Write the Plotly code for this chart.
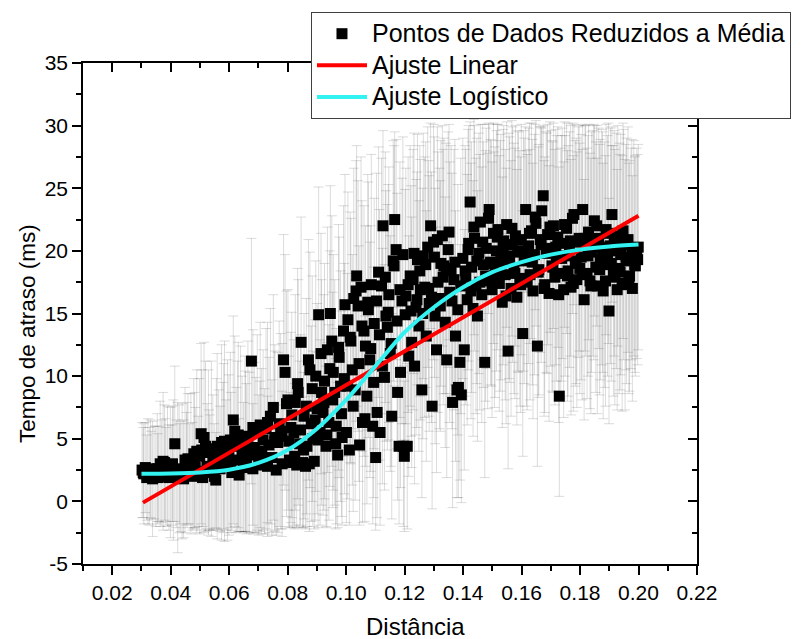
import plotly.graph_objects as go

# ---------------- data ----------------
x_a = [0.0302, 0.0308, 0.0313, 0.0318, 0.0322, 0.0327, 0.0333, 0.0338, 0.0343, 0.0349,
       0.0354, 0.0359, 0.0364, 0.0369, 0.0374, 0.0379, 0.0384, 0.0389, 0.0394, 0.0399,
       0.0404, 0.0409, 0.0414, 0.0419, 0.0424, 0.0429, 0.0434, 0.0439, 0.0444, 0.0449]
y_a = [2.5, 2.2, 2.7, 1.9, 2.4, 2.0, 2.1, 1.8, 2.3, 2.0, 2.6, 2.2, 3.0, 2.4, 3.2, 3.1, 2.0, 2.8, 1.9, 2.3,
       2.1, 2.5, 4.6, 2.2, 1.9, 2.6, 2.0, 2.4, 1.8, 3.3]
e_a = [3.8, 4.0, 3.6, 3.4, 4.2, 3.9, 3.5, 4.6, 3.7, 4.0, 4.4, 3.8, 5.0, 4.1, 5.5, 4.6, 3.9, 4.8, 4.2, 5.2,
       4.0, 5.6, 6.2, 4.3, 6.0, 5.1, 4.4, 5.4, 4.7, 5.8]

x_b = [0.0454, 0.0459, 0.0464, 0.0469, 0.0474, 0.0479, 0.0484, 0.0489, 0.0494, 0.0499,
       0.0504, 0.0509, 0.0514, 0.0519, 0.0524, 0.0529, 0.0534, 0.0539, 0.0544, 0.0549,
       0.0554, 0.0559, 0.0564, 0.0569, 0.0574, 0.0579, 0.0584, 0.0589, 0.0594, 0.0599]
y_b = [2.6, 3.4, 2.2, 3.0, 2.0, 3.8, 2.7, 4.0, 2.4, 3.6, 5.4, 1.9, 5.1, 4.4, 2.8, 3.9, 2.3, 4.2, 3.1, 2.0,
       1.7, 4.4, 3.3, 2.6, 4.7, 3.5, 4.8, 2.9, 4.1, 3.7]
e_b = [4.5, 5.2, 4.0, 5.6, 4.3, 6.0, 4.8, 6.5, 4.4, 6.2, 7.2, 3.9, 7.6, 6.8, 5.0, 6.6, 4.6, 7.0, 5.4, 4.2,
       3.8, 7.4, 5.6, 5.0, 7.8, 6.0, 8.0, 5.2, 7.2, 6.4]

x_c = [0.0604, 0.0609, 0.0614, 0.0619, 0.0624, 0.0629, 0.0634, 0.0639, 0.0644, 0.0649,
       0.0654, 0.0659, 0.0664, 0.0669, 0.0676, 0.0681, 0.0686, 0.0691, 0.0696, 0.0701,
       0.0706, 0.0711, 0.0716, 0.0721, 0.0726, 0.0731, 0.0736, 0.0741, 0.0746, 0.0751,
       0.0756, 0.0761, 0.0766, 0.0771, 0.0776, 0.0781, 0.0786, 0.0791, 0.0796]
y_c = [4.9, 2.3, 6.5, 5.6, 3.3, 4.4, 2.1, 5.0, 3.8, 2.7, 4.6, 3.4, 5.2, 3.9, 11.2, 2.6, 4.3, 3.7, 5.5, 2.9,
       6.1, 4.0, 4.9, 3.2, 5.8, 2.8, 4.5, 6.8, 3.5, 7.5, 5.1, 2.5, 4.7, 6.2, 5.6, 3.0, 11.3, 10.3, 7.8]
e_c = [7.0, 4.6, 8.3, 7.6, 5.8, 6.8, 4.5, 7.4, 6.2, 5.2, 7.0, 6.0, 7.6, 6.4, 9.8, 5.2, 6.8, 6.2, 7.8, 5.6,
       8.2, 6.6, 7.2, 5.8, 8.0, 5.6, 7.0, 8.6, 6.2, 9.0, 7.4, 5.2, 7.2, 8.2, 7.8, 5.8, 10.0, 9.4, 9.0]

x_low2 = [0.0306, 0.0331, 0.0356, 0.0381, 0.0406, 0.0431, 0.0456, 0.0481, 0.0506, 0.0531,
          0.0556, 0.0581, 0.0606, 0.0631, 0.0656, 0.0681, 0.0706, 0.0731, 0.0756, 0.0781]
y_low2 = [2.3, 2.6, 1.9, 2.5, 3.0, 2.2, 2.9, 3.3, 4.1, 2.5, 3.8, 4.4, 3.1, 5.3, 4.0, 5.9, 3.6, 6.3, 4.8, 5.2]
e_low2 = [3.6, 3.9, 3.5, 4.1, 4.6, 4.0, 5.0, 5.4, 6.4, 4.8, 6.0, 6.6, 5.6, 7.4, 6.4, 7.8, 6.0, 8.0, 7.2, 7.4]

x_d = [0.0801, 0.0806, 0.0811, 0.0816, 0.0821, 0.0826, 0.0831, 0.0836, 0.0841, 0.0846,
       0.0851, 0.0856, 0.0861, 0.0866, 0.0871, 0.0876, 0.0881, 0.0886, 0.0891, 0.0896,
       0.0901, 0.0906, 0.0911, 0.0916, 0.0921, 0.0926, 0.0931, 0.0936, 0.0941, 0.0946,
       0.0951, 0.0956, 0.0961, 0.0966, 0.0971, 0.0976, 0.0981, 0.0986, 0.0991, 0.0996]
y_d = [8.1, 3.3, 5.9, 3.1, 5.5, 7.9, 2.9, 8.7, 4.6, 12.7, 3.1, 6.8, 2.8, 4.4, 11.3, 10.5, 6.2, 5.0, 3.2, 10.0,
       7.4, 14.9, 5.5, 8.7, 7.1, 9.6, 4.4, 12.1, 6.3, 15.0, 12.8, 10.3, 8.7, 6.0, 3.7, 11.5, 9.2, 5.1, 13.6, 15.7]
e_d = [8.8, 5.4, 7.6, 5.2, 7.4, 8.6, 5.0, 9.0, 6.6, 10.0, 5.2, 8.2, 5.0, 6.4, 9.6, 9.4, 7.8, 7.0, 5.4, 9.2,
       8.4, 10.2, 7.4, 9.0, 8.2, 9.4, 6.4, 9.8, 7.8, 10.2, 10.0, 9.4, 9.0, 7.8, 5.8, 9.6, 9.2, 7.0, 10.0, 10.4]

x_d2 = [0.0804, 0.0814, 0.0824, 0.0834, 0.0844, 0.0854, 0.0864, 0.0874, 0.0884, 0.0894,
        0.0904, 0.0914, 0.0924, 0.0934, 0.0944, 0.0954, 0.0964, 0.0974, 0.0984, 0.0994]
y_d2 = [4.8, 6.9, 3.6, 9.4, 5.7, 4.1, 7.6, 3.0, 9.0, 6.5, 4.9, 11.8, 7.9, 5.3, 10.6, 8.1, 4.6, 12.3, 7.0, 9.8]
e_d2 = [6.8, 8.2, 5.8, 9.2, 7.6, 6.2, 8.6, 5.4, 9.0, 8.0, 7.0, 9.6, 8.6, 7.4, 9.4, 8.6, 6.8, 9.8, 8.2, 9.2]

x_e = [0.1001, 0.1006, 0.1011, 0.1016, 0.1021, 0.1026, 0.1031, 0.1036, 0.1041, 0.1046,
       0.1051, 0.1056, 0.1061, 0.1066, 0.1071, 0.1076, 0.1081, 0.1086, 0.1091, 0.1096,
       0.1101, 0.1106, 0.1111, 0.1116, 0.1121, 0.1126, 0.1131, 0.1136, 0.1141, 0.1146,
       0.1151, 0.1156, 0.1161, 0.1166, 0.1171, 0.1176, 0.1181, 0.1186, 0.1191, 0.1196]
y_e = [5.5, 14.5, 4.1, 12.8, 10.5, 16.2, 8.9, 18.0, 15.6, 4.5, 17.1, 6.3, 13.6, 12.4, 8.4, 15.3, 11.3, 17.3, 6.0, 14.2,
       3.5, 7.1, 18.3, 5.5, 17.2, 22.0, 9.9, 14.8, 13.9, 16.5, 11.8, 6.8, 19.2, 22.5, 20.1, 8.7, 4.4, 10.3, 16.0, 4.4]
e_e = [7.2, 10.2, 6.0, 9.8, 9.2, 10.4, 8.8, 10.4, 10.0, 6.4, 10.4, 8.0, 10.0, 9.6, 8.6, 10.2, 9.4, 10.4, 7.8, 10.0,
       5.8, 8.4, 10.0, 7.4, 10.2, 7.6, 9.0, 10.0, 9.8, 10.2, 9.4, 8.2, 9.6, 7.0, 8.8, 8.6, 6.2, 9.2, 9.8, 6.4]

x_e2 = [0.1004, 0.1014, 0.1024, 0.1034, 0.1044, 0.1054, 0.1064, 0.1074, 0.1084, 0.1094,
        0.1104, 0.1114, 0.1124, 0.1134, 0.1144, 0.1154, 0.1164, 0.1174, 0.1184, 0.1194]
y_e2 = [9.2, 13.1, 7.6, 16.8, 11.0, 14.0, 6.6, 15.9, 12.2, 9.5, 16.0, 13.3, 10.8, 17.9, 15.1, 12.6, 18.8, 14.4, 16.9, 19.7]
e_e2 = [9.0, 10.0, 8.4, 10.4, 9.4, 10.0, 8.2, 10.2, 9.8, 9.2, 10.2, 10.0, 9.4, 10.0, 10.2, 9.8, 9.6, 10.2, 10.2, 9.4]

x_f = [0.1199, 0.1204, 0.1209, 0.1214, 0.1219, 0.1224, 0.1229, 0.1234, 0.1239, 0.1244,
       0.1249, 0.1254, 0.1259, 0.1264, 0.1269, 0.1274, 0.1279, 0.1284, 0.1289, 0.1294,
       0.1299, 0.1304, 0.1309, 0.1314, 0.1319, 0.1324, 0.1329, 0.1334, 0.1339, 0.1344,
       0.1349, 0.1354, 0.1359, 0.1364, 0.1369, 0.1374, 0.1379, 0.1384, 0.1389, 0.1394, 0.1399]
y_f = [3.6, 16.4, 4.4, 11.6, 18.0, 12.7, 17.7, 10.8, 15.5, 19.3, 14.0, 16.9, 8.9, 19.6, 17.1, 13.2, 20.3, 15.8, 22.0, 7.6,
       20.7, 14.8, 12.1, 17.5, 16.2, 19.0, 21.2, 18.8, 14.3, 11.3, 20.1, 16.7, 18.4, 7.9, 17.7, 13.2, 8.9, 9.1, 11.1, 8.5, 19.4]
e_f = [6.0, 10.2, 6.6, 9.6, 10.4, 10.0, 10.4, 9.4, 10.2, 10.0, 10.0, 10.4, 8.6, 9.8, 10.4, 10.0, 9.6, 10.2, 8.2, 8.2,
       9.4, 10.2, 9.8, 10.4, 10.4, 9.8, 8.8, 10.2, 10.0, 9.4, 9.4, 10.4, 10.0, 8.4, 10.4, 10.0, 8.6, 8.8, 9.4, 8.6, 9.6]

x_f2 = [0.1202, 0.1212, 0.1222, 0.1232, 0.1242, 0.1252, 0.1262, 0.1272, 0.1282, 0.1292,
        0.1302, 0.1312, 0.1322, 0.1332, 0.1342, 0.1352, 0.1362, 0.1372, 0.1382, 0.1392]
y_f2 = [14.9, 17.3, 15.2, 19.8, 16.1, 18.4, 15.0, 18.9, 17.0, 16.3, 19.5, 20.9, 15.6, 17.9, 18.6, 21.5, 16.0, 19.1, 15.3, 17.2]
e_f2 = [10.0, 10.2, 10.0, 9.6, 10.2, 10.0, 10.0, 9.8, 10.2, 10.0, 9.6, 9.0, 10.0, 10.2, 10.0, 8.6, 10.2, 9.8, 10.0, 10.2]

x_g = [0.1404, 0.1409, 0.1414, 0.1419, 0.1424, 0.1429, 0.1434, 0.1439, 0.1444, 0.1449,
       0.1454, 0.1459, 0.1464, 0.1469, 0.1474, 0.1479, 0.1484, 0.1489, 0.1494, 0.1499,
       0.1504, 0.1509, 0.1514, 0.1519, 0.1524, 0.1529, 0.1534, 0.1539, 0.1544, 0.1549,
       0.1554, 0.1559, 0.1564, 0.1569, 0.1574, 0.1579, 0.1584, 0.1589, 0.1594, 0.1599]
y_g = [12.1, 17.9, 16.1, 20.6, 23.9, 18.7, 15.4, 21.0, 17.2, 14.8, 19.8, 22.3, 16.5, 18.9, 11.1, 20.2, 17.6, 23.3, 19.1, 16.9,
       21.4, 18.3, 20.0, 21.7, 17.4, 19.5, 15.9, 20.8, 18.1, 22.1, 12.0, 19.3, 17.0, 20.5, 18.6, 21.2, 16.3, 19.9, 17.8, 20.9]
e_g = [9.6, 10.2, 10.0, 9.4, 6.4, 10.0, 10.2, 9.0, 10.2, 10.0, 9.6, 7.8, 10.2, 9.8, 9.2, 9.6, 10.2, 6.8, 9.8, 10.2,
       8.8, 10.0, 9.6, 8.4, 10.2, 9.8, 10.0, 9.2, 10.0, 8.2, 9.4, 9.8, 10.2, 9.4, 10.0, 8.8, 10.2, 9.6, 10.2, 9.2]

x_g2 = [0.1407, 0.1417, 0.1427, 0.1437, 0.1447, 0.1457, 0.1467, 0.1477, 0.1487, 0.1497,
        0.1507, 0.1517, 0.1527, 0.1537, 0.1547, 0.1557, 0.1567, 0.1577, 0.1587, 0.1597]
y_g2 = [18.4, 20.1, 16.8, 21.9, 19.2, 17.5, 20.7, 18.0, 22.6, 19.0, 17.7, 21.1, 18.8, 20.3, 16.4, 19.6, 21.8, 18.2, 20.0, 17.3]
e_g2 = [10.0, 9.6, 10.2, 8.6, 9.8, 10.2, 9.4, 10.0, 7.6, 9.8, 10.2, 9.0, 10.0, 9.4, 10.2, 9.8, 8.6, 10.0, 9.6, 10.2]

x_h = [0.1604, 0.1609, 0.1614, 0.1619, 0.1624, 0.1629, 0.1634, 0.1639, 0.1644, 0.1649,
       0.1654, 0.1659, 0.1664, 0.1669, 0.1674, 0.1679, 0.1684, 0.1689, 0.1694, 0.1699,
       0.1704, 0.1709, 0.1714, 0.1719, 0.1724, 0.1729, 0.1734, 0.1739, 0.1744, 0.1749,
       0.1754, 0.1759, 0.1764, 0.1769, 0.1774, 0.1779, 0.1784, 0.1789, 0.1794, 0.1799]
y_h = [13.4, 19.2, 23.3, 17.5, 20.4, 18.1, 21.6, 16.8, 19.7, 22.2, 12.4, 18.5, 20.9, 23.2, 24.4, 17.3, 19.9, 21.3, 16.6, 20.2,
       18.8, 22.0, 17.9, 19.4, 21.1, 8.4, 18.2, 20.6, 16.9, 19.6, 21.8, 18.4, 20.1, 17.1, 22.6, 22.9, 19.0, 17.7, 20.7, 18.6]
e_h = [9.8, 9.8, 6.6, 10.2, 9.4, 10.0, 8.6, 10.2, 9.6, 8.2, 9.6, 10.0, 9.0, 6.6, 5.6, 10.2, 9.6, 8.8, 10.2, 9.4,
       10.0, 8.2, 10.2, 9.8, 8.8, 8.0, 10.0, 9.2, 10.2, 9.6, 8.4, 10.0, 9.4, 10.2, 7.6, 7.2, 9.8, 10.2, 9.2, 10.0]

x_h2 = [0.1607, 0.1617, 0.1627, 0.1637, 0.1647, 0.1657, 0.1667, 0.1677, 0.1687, 0.1697,
        0.1707, 0.1717, 0.1727, 0.1737, 0.1747, 0.1757, 0.1767, 0.1777, 0.1787, 0.1797]
y_h2 = [20.0, 17.8, 21.4, 19.1, 22.7, 18.3, 20.5, 17.0, 19.8, 21.9, 18.7, 20.3, 16.5, 19.4, 22.1, 18.0, 20.8, 17.4, 19.2, 21.0]
e_h2 = [9.6, 10.2, 8.8, 9.8, 7.4, 10.0, 9.4, 10.2, 9.6, 8.4, 10.0, 9.4, 10.2, 9.8, 8.2, 10.0, 9.2, 10.2, 9.8, 9.0]

x_i = [0.1804, 0.1809, 0.1814, 0.1819, 0.1824, 0.1829, 0.1834, 0.1839, 0.1844, 0.1849,
       0.1854, 0.1859, 0.1864, 0.1869, 0.1874, 0.1879, 0.1884, 0.1889, 0.1894, 0.1899,
       0.1904, 0.1909, 0.1914, 0.1919, 0.1924, 0.1929, 0.1934, 0.1939, 0.1944, 0.1949,
       0.1954, 0.1959, 0.1964, 0.1969, 0.1974, 0.1979, 0.1984, 0.1989, 0.1994, 0.1999]
y_i = [19.5, 23.3, 16.1, 20.8, 18.2, 21.5, 17.6, 19.9, 20.6, 22.4, 18.7, 17.2, 21.0, 19.3, 20.3, 16.8, 18.9, 21.7, 19.6, 15.2,
       20.4, 22.9, 18.4, 17.9, 20.0, 21.2, 18.6, 19.7, 17.4, 20.5, 17.3, 19.2, 20.9, 18.0, 19.4, 17.0, 20.2, 18.8, 19.8, 20.3]
e_i = [9.8, 6.8, 9.6, 9.2, 10.0, 8.6, 10.2, 9.6, 9.0, 7.6, 10.0, 10.2, 8.8, 9.6, 9.4, 10.2, 9.8, 8.4, 9.6, 9.0,
       9.4, 7.0, 10.0, 10.2, 9.4, 8.8, 10.0, 9.6, 10.2, 9.2, 10.0, 9.8, 9.0, 9.2, 8.8, 9.0, 8.6, 8.8, 8.4, 8.2]

x_i2 = [0.1807, 0.1817, 0.1827, 0.1837, 0.1847, 0.1857, 0.1867, 0.1877, 0.1887, 0.1897,
        0.1907, 0.1917, 0.1927, 0.1937, 0.1947, 0.1957, 0.1967, 0.1977, 0.1987, 0.1997]
y_i2 = [18.1, 21.0, 19.6, 17.2, 20.7, 22.0, 18.5, 19.9, 17.6, 21.4, 19.0, 20.6, 16.9, 18.3, 21.6, 19.5, 17.8, 20.1, 18.9, 19.3]
e_i2 = [10.0, 9.0, 9.6, 10.2, 9.4, 8.0, 10.0, 9.6, 10.0, 8.8, 9.4, 9.0, 9.6, 9.4, 8.6, 9.0, 9.2, 8.8, 8.6, 8.4]

# Linear fit line (endpoints)
lin_x = [0.0305, 0.2]
lin_y = [-0.1, 22.8]

# Logistic fit curve
log_x = [0.030, 0.040, 0.050, 0.060, 0.070, 0.080, 0.090, 0.100, 0.110,
         0.120, 0.130, 0.140, 0.150, 0.160, 0.170, 0.180, 0.190, 0.200]
log_y = [2.20, 2.23, 2.31, 2.53, 3.07, 4.10, 5.80, 8.10, 10.8,
         13.5, 15.5, 17.1, 18.3, 19.1, 19.7, 20.1, 20.35, 20.5]

x_ticks = [0.02, 0.04, 0.06, 0.08, 0.10, 0.12, 0.14, 0.16, 0.18, 0.20, 0.22]
x_labels = ["0.02", "0.04", "0.06", "0.08", "0.10", "0.12", "0.14", "0.16", "0.18", "0.20", "0.22"]
y_ticks = [-5, 0, 5, 10, 15, 20, 25, 30, 35]
y_labels = ["-5", "0", "5", "10", "15", "20", "25", "30", "35"]

X_RANGE = [0.01, 0.22]
Y_RANGE = [-5, 35]

x_title = "Distância"
y_title = "Tempo de atraso (ms)"
names = ["Pontos de Dados Reduzidos a Média", "Ajuste Linear", "Ajuste Logístico"]

# ---------------- figure ----------------
xs = x_a + x_b + x_c + x_low2 + x_d + x_d2 + x_e + x_e2 + x_f + x_f2 + x_g + x_g2 + x_h + x_h2 + x_i + x_i2
ys = y_a + y_b + y_c + y_low2 + y_d + y_d2 + y_e + y_e2 + y_f + y_f2 + y_g + y_g2 + y_h + y_h2 + y_i + y_i2
es = e_a + e_b + e_c + e_low2 + e_d + e_d2 + e_e + e_e2 + e_f + e_f2 + e_g + e_g2 + e_h + e_h2 + e_i + e_i2

FONT = "Liberation Sans, Arial, sans-serif"


def big(t):
    return '<span style="font-size:25px">' + t + '</span>'


fig = go.Figure()
fig.add_trace(go.Scatter(
    x=xs, y=ys, mode="markers", name=big(names[0]),
    marker=dict(symbol="square", size=11, color="black", line=dict(width=0)),
    error_y=dict(type="data", array=es, visible=True, color="rgba(0,0,0,0.14)",
                 thickness=1, width=5),
))
fig.add_trace(go.Scatter(
    x=lin_x, y=lin_y, mode="lines", name=big(names[1]),
    line=dict(color="#FF0000", width=4),
))
fig.add_trace(go.Scatter(
    x=log_x, y=log_y, mode="lines", name=big(names[2]),
    line=dict(color="#33F2F2", width=4, shape="spline", smoothing=0.8),
))
# empty trace to activate the mirrored (top/right) axes with inward ticks
fig.add_trace(go.Scatter(x=[], y=[], xaxis="x2", yaxis="y2", showlegend=False,
                         hoverinfo="skip"))

tick_common = dict(showgrid=False, zeroline=False, tickcolor="black", tickwidth=1.6,
                   automargin=False)

fig.update_layout(
    width=806, height=639, autosize=False,
    margin=dict(l=83, r=109, t=63, b=75, pad=0),
    paper_bgcolor="white", plot_bgcolor="white",
    font=dict(family=FONT, size=21, color="black"),
    showlegend=True,
    legend=dict(
        x=0.3713, y=1.102, xanchor="left", yanchor="top",
        bgcolor="white", bordercolor="#404040", borderwidth=1,
        font=dict(family=FONT, size=22, color="black"),
        tracegroupgap=0, itemwidth=50,
    ),
    xaxis=dict(
        range=X_RANGE, tickmode="array", tickvals=x_ticks, ticktext=x_labels,
        ticks="outside", ticklen=9, showline=True, mirror=True,
        linecolor="black", linewidth=1.6,
        tickfont=dict(size=21),
        minor=dict(ticks="outside", ticklen=5, dtick=0.01, tick0=0.01,
                   tickcolor="black", tickwidth=1.6),
        **tick_common,
    ),
    yaxis=dict(
        range=Y_RANGE, tickmode="array", tickvals=y_ticks, ticktext=y_labels,
        ticks="outside", ticklen=9, showline=True, mirror=True,
        linecolor="black", linewidth=1.6,
        tickfont=dict(size=21),
        minor=dict(ticks="outside", ticklen=5, dtick=2.5, tick0=0,
                   tickcolor="black", tickwidth=1.6),
        **tick_common,
    ),
    xaxis2=dict(
        overlaying="x", side="top", anchor="y2", range=X_RANGE,
        tickmode="array", tickvals=x_ticks, showticklabels=False,
        ticks="inside", ticklen=9, showline=False,
        minor=dict(ticks="inside", ticklen=5, dtick=0.01, tick0=0.01,
                   tickcolor="black", tickwidth=1.6),
        **tick_common,
    ),
    yaxis2=dict(
        overlaying="y", side="right", anchor="x2", range=Y_RANGE,
        tickmode="array", tickvals=y_ticks, showticklabels=False,
        ticks="inside", ticklen=9, showline=False,
        minor=dict(ticks="inside", ticklen=5, dtick=2.5, tick0=0,
                   tickcolor="black", tickwidth=1.6),
        **tick_common,
    ),
    annotations=[
        dict(text=x_title, xref="paper", yref="paper", x=0.5423, y=-0.1257,
             xanchor="center", yanchor="middle", showarrow=False,
             font=dict(family=FONT, size=24, color="black")),
        dict(text=y_title, xref="paper", yref="paper", x=-0.0912, y=0.459,
             xanchor="center", yanchor="middle", showarrow=False, textangle=-90,
             font=dict(family=FONT, size=22.5, color="black")),
    ],
)

fig.write_html("out.html")
